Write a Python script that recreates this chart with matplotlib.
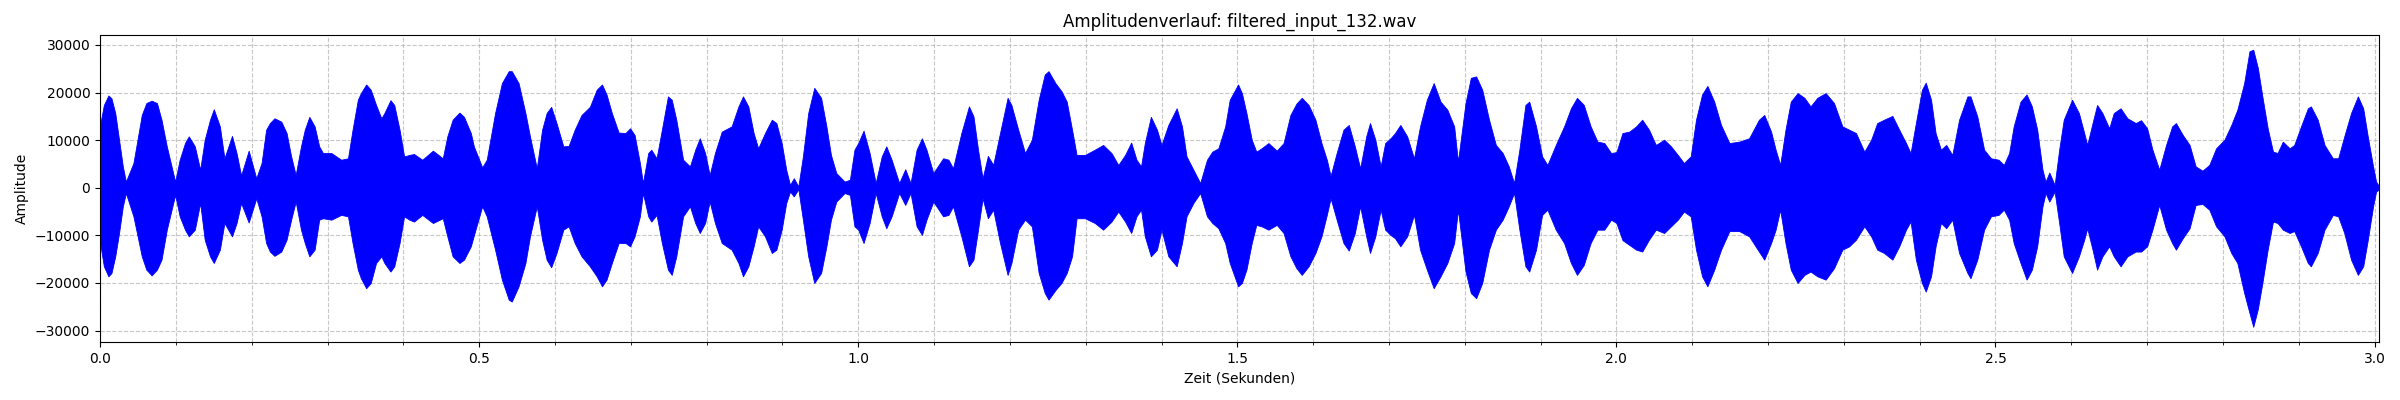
import numpy as np
import matplotlib
matplotlib.use("Agg")
import matplotlib.pyplot as plt
from matplotlib.ticker import MultipleLocator

# --- Chart texts ---
TITLE = "Amplitudenverlauf: filtered_input_132.wav"
XLABEL = "Zeit (Sekunden)"
YLABEL = "Amplitude"

# --- Envelope of the waveform (time in s, amplitude) ---
time_s = [
    0.000, 0.005, 0.011, 0.015, 0.020, 0.025, 0.030, 0.034, 0.044, 0.055,
    0.061, 0.068, 0.075, 0.081, 0.088, 0.099, 0.105, 0.112, 0.117, 0.125,
    0.132, 0.138, 0.145, 0.150, 0.158, 0.164, 0.174, 0.180, 0.186, 0.196,
    0.206, 0.213, 0.219, 0.224, 0.230, 0.239, 0.246, 0.252, 0.258, 0.265,
    0.270, 0.276, 0.283, 0.289, 0.294, 0.305, 0.318, 0.327, 0.333, 0.340,
    0.344, 0.351, 0.357, 0.364, 0.371, 0.375, 0.383, 0.388, 0.395, 0.401,
    0.408, 0.414, 0.425, 0.439, 0.452, 0.458, 0.465, 0.474, 0.480, 0.489,
    0.493, 0.504, 0.510, 0.521, 0.530, 0.539, 0.543, 0.552, 0.561, 0.567,
    0.576, 0.583, 0.589, 0.595, 0.602, 0.611, 0.618, 0.626, 0.635, 0.646,
    0.655, 0.662, 0.668, 0.675, 0.684, 0.693, 0.699, 0.705, 0.712, 0.716,
    0.723, 0.727, 0.734, 0.741, 0.749, 0.754, 0.760, 0.769, 0.778, 0.785,
    0.791, 0.798, 0.804, 0.811, 0.820, 0.833, 0.842, 0.848, 0.855, 0.862,
    0.868, 0.877, 0.886, 0.892, 0.899, 0.905, 0.910, 0.915, 0.921, 0.927,
    0.934, 0.942, 0.951, 0.958, 0.964, 0.971, 0.982, 0.989, 0.995, 1.000,
    1.007, 1.015, 1.023, 1.031, 1.037, 1.044, 1.054, 1.062, 1.069, 1.077,
    1.084, 1.090, 1.099, 1.112, 1.119, 1.125, 1.136, 1.146, 1.152, 1.158,
    1.164, 1.171, 1.178, 1.187, 1.197, 1.202, 1.211, 1.220, 1.229, 1.238,
    1.246, 1.251, 1.260, 1.268, 1.275, 1.282, 1.288, 1.299, 1.312, 1.323,
    1.334, 1.343, 1.352, 1.360, 1.367, 1.373, 1.378, 1.386, 1.394, 1.400,
    1.409, 1.420, 1.427, 1.433, 1.442, 1.451, 1.460, 1.467, 1.475, 1.484,
    1.490, 1.501, 1.506, 1.512, 1.519, 1.525, 1.532, 1.541, 1.552, 1.561,
    1.570, 1.578, 1.585, 1.594, 1.603, 1.611, 1.618, 1.623, 1.631, 1.640,
    1.647, 1.655, 1.662, 1.670, 1.675, 1.682, 1.689, 1.695, 1.702, 1.708,
    1.715, 1.724, 1.733, 1.741, 1.750, 1.759, 1.768, 1.777, 1.786, 1.791,
    1.801, 1.808, 1.815, 1.823, 1.832, 1.841, 1.850, 1.858, 1.865, 1.872,
    1.880, 1.885, 1.894, 1.902, 1.909, 1.920, 1.931, 1.940, 1.948, 1.957,
    1.966, 1.975, 1.984, 1.993, 2.000, 2.008, 2.017, 2.026, 2.034, 2.043,
    2.052, 2.063, 2.072, 2.081, 2.089, 2.098, 2.105, 2.113, 2.120, 2.129,
    2.138, 2.149, 2.162, 2.175, 2.188, 2.195, 2.204, 2.210, 2.216, 2.223,
    2.230, 2.239, 2.248, 2.256, 2.265, 2.276, 2.287, 2.298, 2.307, 2.316,
    2.327, 2.336, 2.344, 2.353, 2.364, 2.373, 2.382, 2.388, 2.395, 2.403,
    2.408, 2.415, 2.421, 2.428, 2.435, 2.443, 2.452, 2.463, 2.467, 2.476,
    2.485, 2.494, 2.504, 2.511, 2.518, 2.524, 2.533, 2.541, 2.548, 2.555,
    2.562, 2.566, 2.571, 2.578, 2.584, 2.590, 2.601, 2.610, 2.617, 2.621,
    2.628, 2.634, 2.641, 2.650, 2.656, 2.665, 2.674, 2.685, 2.692, 2.700,
    2.707, 2.716, 2.725, 2.733, 2.738, 2.747, 2.756, 2.764, 2.773, 2.782,
    2.791, 2.802, 2.811, 2.819, 2.828, 2.835, 2.840, 2.846, 2.852, 2.859,
    2.866, 2.872, 2.879, 2.888, 2.894, 2.903, 2.912, 2.916, 2.925, 2.934,
    2.945, 2.952, 2.960, 2.969, 2.978, 2.985, 2.991, 2.998, 3.002, 3.006,
]

env_upper = [
    13200, 17400, 19400, 18800, 15700, 10100, 4500, 1300, 5200, 15300,
    17800, 18300, 17800, 14300, 8700, 1300, 5900, 9400, 10800, 8700,
    3800, 10100, 14300, 16500, 12900, 6200, 10900, 7300, 2600, 7800,
    2000, 5200, 12200, 13600, 14600, 13900, 11500, 6600, 2700, 8700,
    12200, 14900, 12900, 8700, 7300, 7300, 5900, 6200, 12200, 18500,
    19900, 21700, 20600, 17400, 14600, 15700, 18400, 17400, 12200, 6600,
    6900, 7100, 5900, 7800, 6200, 10800, 14300, 15800, 14900, 11500,
    8700, 4300, 5900, 15700, 22000, 24500, 24500, 22000, 15700, 10800,
    4100, 12200, 15700, 17000, 13600, 8700, 8800, 12200, 15300, 17000,
    20600, 21700, 19600, 15700, 11600, 11500, 12500, 11100, 5200, 1000,
    7300, 8000, 6200, 12200, 19200, 18500, 14300, 5900, 4500, 8000,
    10400, 7300, 2700, 7300, 11800, 12900, 17100, 19200, 17100, 11500,
    8300, 11500, 14300, 13600, 9400, 3800, 600, 2000, 300, 6600,
    15700, 21000, 18900, 12900, 6900, 3100, 1300, 1700, 8000, 9400,
    12000, 7300, 1000, 6600, 8700, 5900, 1000, 3900, 1000, 8000,
    10400, 8000, 3100, 6200, 5900, 4100, 11500, 17100, 15000, 8000,
    2000, 6700, 4800, 11500, 18900, 17400, 12200, 7300, 10100, 18500,
    23800, 24500, 22000, 20300, 18100, 12200, 6900, 6900, 8000, 9000,
    7300, 4800, 6900, 9500, 5900, 4500, 9400, 14900, 12200, 9000,
    13200, 16700, 12900, 6600, 3800, 1000, 5900, 7600, 8300, 12900,
    18500, 21700, 19900, 15700, 10100, 7600, 8300, 9400, 7800, 9400,
    15300, 17700, 18900, 17400, 14300, 9400, 5900, 2500, 7300, 12200,
    13200, 8700, 4100, 10800, 13600, 10100, 4500, 9400, 10400, 11500,
    13200, 10800, 6200, 12900, 18500, 22000, 18100, 16400, 12900, 5500,
    17800, 23100, 23400, 20600, 14300, 9000, 7300, 4500, 1000, 8000,
    17400, 18100, 12900, 6600, 4800, 9000, 12900, 16700, 18900, 17400,
    12900, 9700, 9400, 7300, 7500, 11500, 11800, 12900, 14300, 12200,
    9000, 10100, 8700, 6900, 5200, 6600, 14300, 19600, 21400, 18100,
    13200, 9400, 9700, 10400, 14300, 15300, 11800, 8000, 4800, 12200,
    18100, 19900, 18900, 17100, 18900, 19900, 17800, 12900, 12200, 11500,
    7600, 10100, 13600, 14300, 15100, 12200, 9400, 7300, 13600, 20600,
    22100, 18500, 11500, 8000, 9000, 6900, 14300, 19200, 19200, 15000,
    8000, 6200, 5900, 4800, 7300, 12900, 18100, 19600, 17100, 12200,
    3800, 1300, 3200, 600, 8000, 14300, 18500, 15700, 11500, 9000,
    13600, 17400, 15700, 12500, 15700, 16700, 14600, 13600, 14200, 12500,
    8000, 3800, 9000, 12900, 13600, 11100, 9000, 4500, 3600, 4800,
    8300, 10100, 13200, 16400, 22000, 28700, 29000, 25200, 19200, 12500,
    7600, 7300, 9700, 8300, 9000, 12900, 16700, 17100, 14300, 9000,
    6200, 6200, 10800, 15700, 19200, 16700, 10800, 4500, 1300, 300,
]

env_lower = [
    -11600, -16500, -18600, -17900, -14400, -9500, -3900, -1100, -6000, -14400,
    -17200, -18400, -17200, -15100, -8800, -1500, -6000, -8800, -10200, -8800,
    -3200, -10900, -14400, -15800, -13000, -7400, -10200, -7400, -3200, -7300,
    -2200, -6000, -11600, -13400, -14300, -13400, -10900, -6700, -2900, -8800,
    -11600, -14400, -13000, -6700, -6400, -6700, -5700, -6000, -11600, -17200,
    -19000, -21100, -20000, -15800, -14400, -15800, -17600, -16500, -11600, -6000,
    -6700, -7100, -5700, -7400, -6400, -10200, -14400, -15800, -15100, -12300,
    -10000, -3900, -6000, -13000, -19300, -23500, -23900, -20700, -15800, -10200,
    -3900, -10900, -15100, -16700, -13700, -8800, -8100, -11600, -14400, -16500,
    -18600, -20700, -19300, -15800, -11600, -11600, -12300, -10200, -6000, -1100,
    -6000, -7100, -5700, -11600, -17200, -18300, -14400, -6000, -3900, -7400,
    -9500, -7400, -2900, -7400, -11600, -13000, -15800, -18600, -16500, -12300,
    -8100, -10200, -13700, -13000, -8800, -3200, -800, -1800, -300, -6700,
    -14400, -20000, -17900, -12300, -6700, -2900, -1100, -1500, -8100, -8800,
    -11600, -7400, -1100, -6000, -8500, -6000, -1100, -3600, -1100, -8100,
    -9900, -6700, -2900, -6000, -5700, -3900, -10200, -16500, -15100, -8800,
    -2200, -6400, -4600, -11600, -18300, -15800, -8800, -6700, -8100, -17900,
    -22100, -23500, -21500, -20000, -17900, -14400, -6400, -6400, -7400, -8800,
    -7100, -5000, -7100, -9500, -6000, -4600, -10200, -14400, -13000, -8800,
    -14400, -16500, -11600, -6000, -3200, -1100, -6000, -7400, -8500, -11600,
    -15800, -20700, -20000, -17200, -11600, -7800, -8100, -8800, -7800, -9500,
    -14400, -16900, -18300, -16500, -13700, -10200, -5700, -2200, -6700, -11600,
    -13200, -9500, -3900, -10200, -13700, -10200, -4600, -8800, -9900, -10600,
    -12300, -10200, -5700, -13000, -17200, -21100, -18600, -15800, -11600, -4600,
    -17600, -22100, -23200, -20000, -13000, -8800, -6700, -3900, -1100, -8800,
    -16500, -17600, -13000, -5700, -4600, -8800, -11600, -15800, -18300, -16200,
    -11600, -8800, -8800, -6700, -7400, -11000, -12000, -13000, -13400, -10900,
    -8800, -9500, -8100, -6700, -5000, -6000, -13000, -18600, -20700, -17200,
    -13000, -9100, -9100, -10200, -13400, -15100, -11600, -8800, -4600, -11600,
    -17200, -20000, -18300, -17600, -18600, -19300, -16900, -13000, -12300, -10900,
    -8100, -10200, -13000, -13700, -15100, -12300, -8800, -7100, -15100, -20000,
    -21800, -18600, -12300, -7400, -8500, -6700, -13700, -17900, -19000, -15100,
    -8800, -6000, -5700, -4600, -6700, -11600, -15800, -19300, -17200, -12300,
    -3900, -1100, -2900, -800, -7400, -14400, -17900, -14400, -10900, -8500,
    -13000, -17200, -14400, -12300, -14400, -16500, -14400, -13400, -13400, -12300,
    -8800, -3600, -8800, -11600, -13000, -10600, -8500, -3600, -3400, -4600,
    -8100, -10200, -13700, -15800, -22100, -26300, -29200, -25500, -20000, -13000,
    -7100, -7400, -8800, -9500, -9100, -12300, -15800, -16500, -13700, -8800,
    -5700, -6000, -9500, -15100, -18300, -16500, -11000, -3900, -800, -300,
]

t = np.array(time_s)
upper = np.array(env_upper)
lower = np.array(env_lower)

fig, ax = plt.subplots(figsize=(24, 4), dpi=100)
fig.subplots_adjust(left=0.0417, right=0.9913, top=0.9125, bottom=0.145)

# Solid waveform body (the signal oscillates so densely that it fills its envelope)
ax.fill_between(t, lower, upper, color="blue", linewidth=0.6, edgecolor="blue")

ax.set_title(TITLE, fontsize=12)
ax.set_xlabel(XLABEL)
ax.set_ylabel(YLABEL)

ax.set_xlim(0, 3.006)
ax.set_ylim(-32400, 32100)
ax.xaxis.set_major_locator(MultipleLocator(0.5))
ax.xaxis.set_minor_locator(MultipleLocator(0.1))
ax.yaxis.set_major_locator(MultipleLocator(10000))

ax.grid(True, which="both", linestyle="--", alpha=0.7)
ax.set_axisbelow(True)

fig.savefig("out.png", dpi=100)
